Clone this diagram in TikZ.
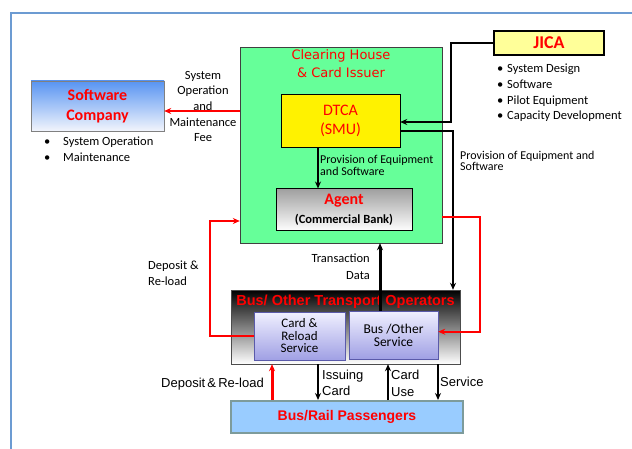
\documentclass[tikz,border=0pt]{standalone}
\usepackage{fontspec}
\setmainfont{Carlito}
\newfontfamily\arialfont{Liberation Sans}
\newfontfamily\verdfont{DejaVu Sans}
\usetikzlibrary{arrows.meta,calc,positioning}

\definecolor{framecol}{RGB}{108,155,210}
\definecolor{swtop}{RGB}{88,148,242}
\definecolor{swbot}{RGB}{242,245,252}
\definecolor{chgreen}{RGB}{102,255,153}
\definecolor{jicafill}{RGB}{255,255,153}
\definecolor{agtop}{RGB}{160,160,160}
\definecolor{svctop}{RGB}{240,240,255}
\definecolor{svcbot}{RGB}{160,160,228}
\definecolor{svcedge}{RGB}{90,90,170}
\definecolor{paxfill}{RGB}{153,204,255}
\definecolor{paxedge}{RGB}{125,155,155}

\begin{document}
\begin{tikzpicture}
    [x=1pt, y=-1pt, >={Stealth[length=7pt,width=6pt]},
    box/.style={draw, inner sep=0pt, align=center},
    title/.style={text=red, font=\fontsize{16}{20}\selectfont\bfseries},
    lbl/.style={inner sep=0pt, align=center, font=\fontsize{12.5}{15.7}\selectfont},
    alabel/.style={inner sep=0pt, align=left, font=\arialfont\fontsize{13}{16.5}\selectfont},
    redarrow/.style={->, red, line width=2.2pt},
    blkarrow/.style={->, line width=2pt},
    thinarrow/.style={->, line width=1.5pt}]

  \useasboundingbox (0,0) rectangle (632,449);
  \draw[framecol, line width=2pt] (10.5,449) -- (10.5,13.5) -- (632,13.5);

  % boxes
  \node[box, draw=gray, top color=swtop, bottom color=swbot,
        minimum width=133, minimum height=50, title] (sw) at (97.5,106) {Software\\Company};
  \node[box, draw=darkgray, fill=chgreen, minimum width=202, minimum height=196] (ch) at (341,145) {};
  \node[text=red, align=center, inner sep=0pt,
        font=\verdfont\fontsize{13}{18}\selectfont] (chtitle) at (341,64) {Clearing House\\\& Card Issuer};
  \node[box, fill=yellow, minimum width=119, minimum height=53, text=red,
        font=\fontsize{16}{19}\selectfont] (dtca) at (340.5,120.5) {DTCA\\(SMU)};
  \node[box, top color=agtop, bottom color=white, line width=1pt, minimum width=136, minimum height=42,
        font=\fontsize{12.5}{19}\selectfont\bfseries] (agent) at (344,210)
        {\textcolor{red}{\fontsize{16}{19}\selectfont Agent}\\(Commercial Bank)};
  \node[box, fill=jicafill, line width=2.5pt, minimum width=110, minimum height=24, title,
        font=\fontsize{18}{20}\selectfont\bfseries] (jica) at (549,43) {JICA};

  \node[box, draw=gray!60!black, top color=black, bottom color=white,
        minimum width=229, minimum height=74] (ops) at (345.5,327) {};
  \node[text=red, inner sep=0pt, font=\arialfont\bfseries\fontsize{14.5}{17}\selectfont]
        (opstitle) at (345.5,302) {Bus/ Other Transport Operators};
  \node[box, draw=svcedge, top color=svctop, bottom color=svcbot, minimum width=91, minimum height=48,
        font=\fontsize{13}{12.5}\selectfont] (card) at (299.5,336) {Card \&\\Reload\\Service};
  \node[box, draw=svcedge, top color=svctop, bottom color=svcbot, minimum width=89, minimum height=48,
        font=\fontsize{13.5}{13}\selectfont] (bussvc) at (393.5,335) {Bus /Other\\Service};

  \node[box, draw=paxedge, fill=paxfill, line width=2pt, minimum width=232, minimum height=32, text=red,
        font=\arialfont\bfseries\fontsize{14}{17}\selectfont] (pax) at (347,417) {Bus/Rail Passengers};

  % lists
  \node[lbl, align=left, anchor=north west, font=\fontsize{12.5}{16}\selectfont] (swlist) at (44,137)
        {\makebox[19pt][l]{\textbullet}System Operation\\\makebox[19pt][l]{\textbullet}Maintenance};
  \node[lbl, align=left, anchor=north west, font=\fontsize{12.5}{15.7}\selectfont] (jicalist) at (497,64)
        {\makebox[10pt][l]{\textbullet}System Design\\\makebox[10pt][l]{\textbullet}Software\\
         \makebox[10pt][l]{\textbullet}Pilot Equipment\\\makebox[10pt][l]{\textbullet}Capacity Development};

  % labels
  \node[lbl] (feelbl) at (203,106.5) {System\\Operation\\and\\Maintenance\\Fee};
  \node[lbl, align=left, anchor=west, font=\fontsize{12}{12}\selectfont] (provin) at (320,165)
        {Provision of Equipment\\and Software};
  \node[lbl, align=left, anchor=west, font=\fontsize{12}{11}\selectfont] (provout) at (460,160.5)
        {Provision of Equipment and\\Software};
  \node[lbl, align=right, anchor=east, font=\fontsize{12.5}{17}\selectfont] (txlbl) at (370,266.5)
        {Transaction\\Data};
  \node[lbl, align=left, anchor=west, font=\fontsize{12.5}{16}\selectfont] (deplbl) at (148,273)
        {Deposit \&\\Re-load};
  \node[alabel, anchor=east] (deplow) at (264,384) {Deposit\,\&\,Re-load};
  \node[alabel, anchor=west] (issue) at (322,383) {Issuing\\Card};
  \node[alabel, anchor=west] (use) at (391,383.5) {Card\\Use};
  \node[alabel, anchor=west] (svc) at (440,382) {Service};

  % connectors
  \draw[redarrow] ([yshift=-5]sw.east -| ch.west) -- ([yshift=-5]sw.east);
  \draw[blkarrow] (jica.west) -- ++(-42,0) |- ([yshift=-1.5]dtca.east);
  \draw[blkarrow] ([yshift=-10.5]dtca.east) -| ([xshift=107.5]ops.north);
  \draw[thinarrow] ([xshift=-22.5]dtca.south) -- ([xshift=-22.5]dtca.south |- agent.north);
  \draw[->, line width=3pt] ([xshift=-13.5]bussvc.north) -- ([xshift=-13.5]bussvc.north |- ch.south);
  \draw[redarrow, line width=2pt] ([yshift=-71.7]ch.east) -- ++(38,0) |- ([yshift=3.3]bussvc.east);
  \draw[redarrow] (card.west) -- ++(-44,0) |- ([yshift=-76]ch.west);
  \draw[redarrow, line width=3pt] ([xshift=-75]pax.north) -- ([xshift=-75]pax.north |- ops.south);
  \draw[thinarrow] ([xshift=-29]pax.north |- ops.south) -- ([xshift=-29]pax.north);
  \draw[blkarrow] ([xshift=41]pax.north) -- ([xshift=41]pax.north |- ops.south);
  \draw[thinarrow] ([xshift=91]pax.north |- ops.south) -- ([xshift=91]pax.north);

\end{tikzpicture}
\end{document}
